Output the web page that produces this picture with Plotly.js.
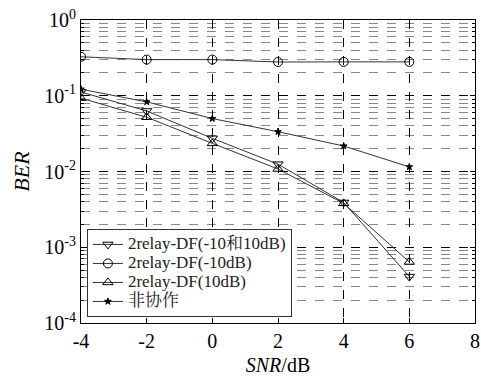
<!DOCTYPE html>
<html>
<head>
<meta charset="utf-8">
<script src="https://cdn.plot.ly/plotly-3.0.1.min.js"></script>
<style>html,body{margin:0;padding:0;background:#fff;}#chart{width:481px;height:381px;}</style>
</head>
<body>
<div id="chart"></div>
<script>
const snr = [-4, -2, 0, 2, 4, 6];
const berBoth = [0.112, 0.063, 0.0274, 0.0125, 0.0039, 0.00041];
const berMinus10 = [0.327, 0.30, 0.30, 0.279, 0.28, 0.28];
const berPlus10 = [0.093, 0.052, 0.0235, 0.0108, 0.0038, 0.00064];
const berNonCoop = [0.122, 0.083, 0.050, 0.0335, 0.0217, 0.0115];
const seriesNames = ['2relay-DF(-10和10dB)', '2relay-DF(-10dB)', '2relay-DF(10dB)', '非协作'];
const xTicks = [-4, -2, 0, 2, 4, 6, 8];
const xTickText = ['-4', '-2', '0', '2', '4', '6', '8'];
const yTicks = [1e-4, 1e-3, 1e-2, 1e-1, 1];
const yTickText = ['10<sup>-4</sup>', '10<sup>-3</sup>', '10<sup>-2</sup>', '10<sup>-1</sup>', '10<sup>0</sup>'];

const minorVals = [];
[1e-4, 1e-3, 1e-2, 1e-1].forEach(d => { for (let k = 2; k <= 9; k++) minorVals.push(d * k); });

const font = "'Liberation Serif', 'Times New Roman', 'Noto Serif CJK SC', 'Noto Sans CJK SC', serif";
const lineCol = '#333';
function tr(y, name, symbol, size) {
  return {
    x: snr, y: y, name: '<span style="font-size:17px">' + name + '</span>',
    type: 'scatter', mode: 'lines+markers',
    line: {color: lineCol, width: 1},
    marker: {symbol: symbol, size: size, color: '#000', line: {color: '#000', width: 1}}
  };
}
const data = [
  tr(berBoth, seriesNames[0], 'triangle-down-open', 9),
  tr(berMinus10, seriesNames[1], 'circle-open', 9),
  tr(berPlus10, seriesNames[2], 'triangle-up-open', 9),
  tr(berNonCoop, seriesNames[3], 'star', 5)
];
const layout = {
  width: 481, height: 381,
  margin: {l: 81, r: 6, t: 20, b: 58},
  paper_bgcolor: '#fff', plot_bgcolor: '#fff',
  font: {family: font, size: 20, color: '#000'},
  showlegend: true,
  legend: {
    x: 0.015, y: 0.02, xanchor: 'left', yanchor: 'bottom',
    bgcolor: '#fff', bordercolor: '#333', borderwidth: 1,
    font: {family: font, size: 12, color: '#222'},
    tracegroupgap: 0, itemwidth: 30
  },
  xaxis: {
    range: [-4, 8], tickmode: 'array', tickvals: xTicks, ticktext: xTickText,
    ticks: 'inside', ticklen: 5, tickcolor: '#000',
    showline: true, linecolor: '#000', linewidth: 1, mirror: 'ticks',
    showgrid: true, gridcolor: '#000', griddash: 'dash', gridwidth: 1,
    zeroline: false,
    tickfont: {family: font, size: 20},
    title: {text: '<i>SNR</i>/dB', font: {family: font, size: 20}, standoff: 6}
  },
  yaxis: {
    type: 'log', range: [-4, 0], tickmode: 'array', tickvals: yTicks, ticktext: yTickText,
    ticks: 'inside', ticklen: 5, tickcolor: '#000',
    showline: true, linecolor: '#000', linewidth: 1, mirror: 'ticks',
    showgrid: true, gridcolor: '#000', griddash: 'dash', gridwidth: 1,
    zeroline: false,
    minor: {tickmode: 'array', tickvals: minorVals, ticks: 'inside', ticklen: 3, tickcolor: '#000',
            showgrid: true, gridcolor: '#888', griddash: 'dash', gridwidth: 1},
    tickfont: {family: font, size: 20},
    title: {text: '<i>BER</i>', font: {family: font, size: 22}, standoff: 8}
  }
};
Plotly.newPlot('chart', data, layout, {displayModeBar: false, staticPlot: true});
</script>
</body>
</html>
